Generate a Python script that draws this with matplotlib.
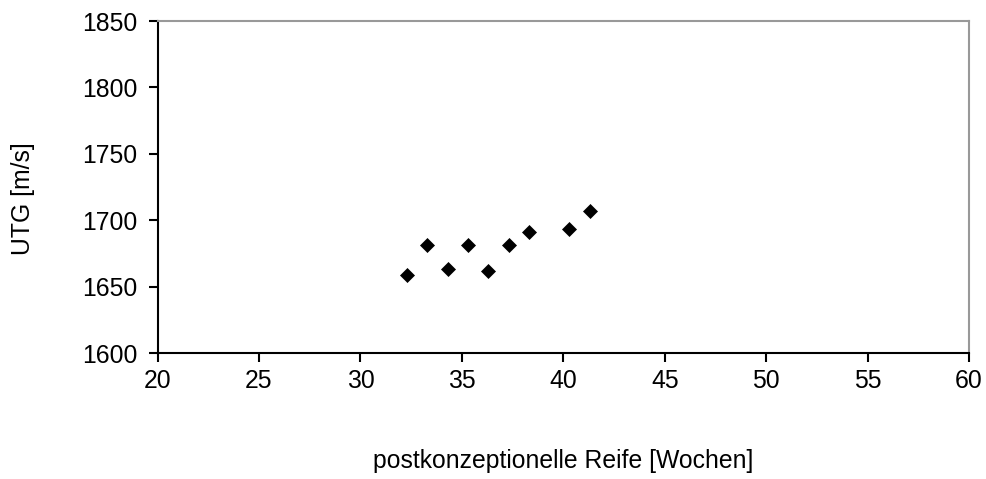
import matplotlib
matplotlib.use('Agg')
import matplotlib.pyplot as plt

plt.rcParams['font.family'] = ['Liberation Sans', 'DejaVu Sans']

# postconceptional age [weeks] and speed of sound [m/s]
reife = [32.3, 33.3, 34.3, 35.3, 36.3, 37.3, 38.3, 40.3, 41.3]
utg = [1658.5, 1681, 1663, 1681.5, 1662, 1681, 1691, 1693.5, 1707]

xticks = [20, 25, 30, 35, 40, 45, 50, 55, 60]
yticks = [1600, 1650, 1700, 1750, 1800, 1850]

fig = plt.figure(figsize=(9.87, 4.79), dpi=100)
axis = fig.add_axes([0.1596, 0.263, 0.8222, 0.693])

axis.plot(reife, utg, linestyle='none', marker='D', markersize=7.6,
          color='black', markeredgewidth=0.5)

axis.set_xlim(20, 60)
axis.set_ylim(1600, 1850)
axis.set_xticks(xticks)
axis.set_yticks(yticks)

axis.tick_params(axis='both', direction='out', length=6.5, width=1.5,
                 labelsize=17.8, colors='black')
axis.tick_params(axis='y', pad=8)
axis.tick_params(axis='x', pad=5)

for side in ('left', 'bottom'):
    axis.spines[side].set_linewidth(1.5)
    axis.spines[side].set_color('black')
for side in ('top', 'right'):
    axis.spines[side].set_linewidth(1.5)
    axis.spines[side].set_color('#999999')

axis.set_xlabel('postkonzeptionelle Reife [Wochen]', fontsize=17.8)
axis.xaxis.set_label_coords(0.5, -0.29)
axis.set_ylabel('UTG [m/s]', fontsize=17.8)
axis.yaxis.set_label_coords(-0.151, 0.464)

fig.savefig('out.png', dpi=100)
